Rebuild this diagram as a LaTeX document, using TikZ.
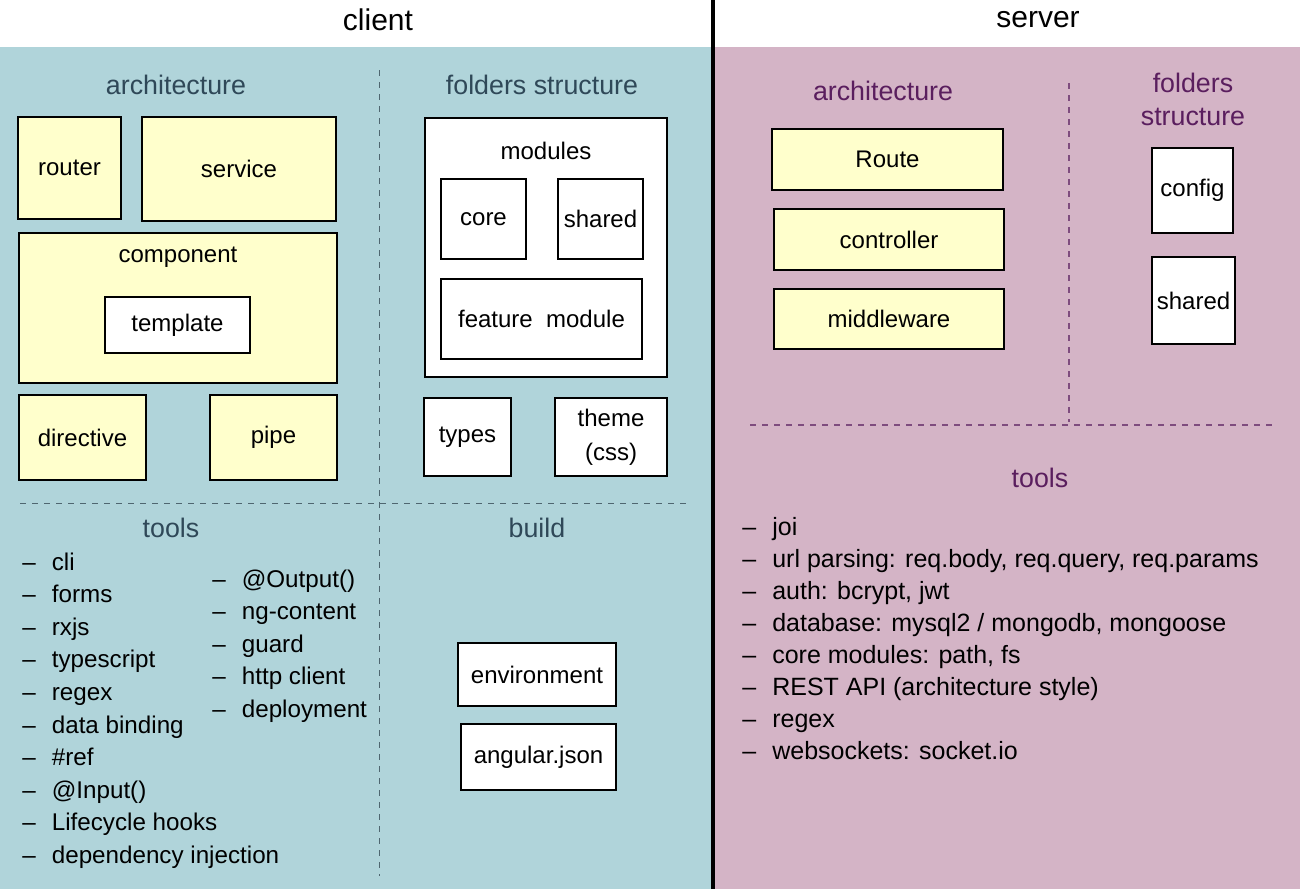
\documentclass[tikz,border=0pt]{standalone}
\usepackage{fontspec}
\setmainfont{Liberation Sans}
\usetikzlibrary{fit}
\definecolor{clientbg}{HTML}{B0D4DA}
\definecolor{serverbg}{HTML}{D4B4C6}
\definecolor{boxyellow}{HTML}{FFFFCC}
\definecolor{clienthead}{HTML}{2F4858}
\definecolor{serverhead}{HTML}{5A1E5E}
\definecolor{clientsep}{HTML}{4F6670}
\definecolor{serversep}{HTML}{7E4C7E}
\begin{document}
\begin{tikzpicture}[x=0.5pt,y=-0.5pt,
    title/.style={font=\fontsize{15}{18}\selectfont},
    head/.style={font=\fontsize{13.4}{16.5}\selectfont, text=clienthead, align=center},
    shead/.style={head, text=serverhead},
    lbl/.style={font=\fontsize{12}{17}\selectfont, align=center, inner sep=0pt},
    ybox/.style={draw=black, line width=0.6pt, fill=boxyellow, inner sep=0pt},
    wbox/.style={draw=black, line width=0.6pt, fill=white, inner sep=0pt},
    item/.style={anchor=base west, inner sep=0pt, font=\fontsize{12.5}{14}\selectfont},
    citem/.style={item, font=\fontsize{12.1}{14}\selectfont},
    csep/.style={dashed, line width=0.5pt, draw=clientsep},
    ssep/.style={dashed, line width=0.6pt, draw=serversep}]
    \useasboundingbox (0,0) rectangle (1300,889);

    % backgrounds
    \fill[white] (0,0) rectangle (1300,889);
    \fill[clientbg] (0,47) rectangle (713,889);
    \fill[serverbg] (713,47) rectangle (1300,889);
    \draw[line width=2pt] (713,0) -- (713,889);

    \node[title] (client) at (378,20) {client};
    \node[title] (server) at (1038,20) {server};

    % client separators
    \draw[csep] (379,70) -- (379,876);
    \draw[csep] (20,503) -- (686,503);

    % client: architecture
    \node[head] (carch) at (176,85) {architecture};
    \node[ybox, fit={(18,117) (121,219)}] (router) {};
    \node[lbl] (routertxt) at (router) {router};
    \node[ybox, fit={(142,117) (336,221)}] (service) {};
    \node[lbl] (servicetxt) at (service) {service};
    \node[ybox, fit={(19,233) (337,383)}] (component) {};
    \node[lbl] (componenttxt) at (178,257) {component};
    \node[wbox, fit={(105,297) (250,353)}] (template) {};
    \node[lbl] (templatetxt) at (template) {template};
    \node[ybox, fit={(19,395) (146,480)}] (directive) {};
    \node[lbl] (directivetxt) at (directive) {directive};
    \node[ybox, fit={(210,395) (337,480)}] (pipe) {};
    \node[lbl] (pipetxt) at (pipe) {pipe};

    % client: folders structure
    \node[head] (cfold) at (542,85) {folders\ structure};
    \node[wbox, fit={(425,118) (667,377)}] (modules) {};
    \node[lbl] (modulestxt) at (546,151) {modules};
    \node[wbox, fit={(441,179) (526,259)}] (core) {};
    \node[lbl] (coretxt) at (core) {core};
    \node[wbox, fit={(558,179) (643,259)}] (cshared) {};
    \node[lbl] (csharedtxt) at (cshared) {shared};
    \node[wbox, fit={(441,279) (642,359)}] (feature) {};
    \node[lbl] (featuretxt) at (feature) {feature\ \ module};
    \node[wbox, fit={(424,398) (511,476)}] (types) {};
    \node[lbl] (typestxt) at (types) {types};
    \node[wbox, fit={(555,398) (667,476)}] (theme) {};
    \node[lbl] (themetxt) at (theme) {theme\\(css)};

    % client: tools
    \node[head] (ctools) at (171,528) {tools};
    \foreach \t [count=\i] in {cli, forms, rxjs, typescript, regex, data binding,
        \#ref, @Input(), Lifecycle hooks, dependency injection}
        \node[citem] (ctool\i) at (22,{570+(\i-1)*32.6}) {--\hspace{8pt}\t};
    \foreach \t [count=\i] in {@Output(), ng-content, guard, http client, deployment}
        \node[citem] (ctoolb\i) at (212,{587+(\i-1)*32.5}) {--\hspace{8pt}\t};

    % client: build
    \node[head] (cbuild) at (537,528) {build};
    \node[wbox, fit={(458,643) (616,706)}] (environment) {};
    \node[lbl] (environmenttxt) at (environment) {environment};
    \node[wbox, fit={(461,724) (616,790)}] (angular) {};
    \node[lbl] (angulartxt) at (angular) {angular.json};

    % server separators
    \draw[ssep] (1069,83) -- (1069,422);
    \draw[ssep] (750,425) -- (1275,425);

    % server: architecture
    \node[shead] (sarch) at (883,91) {architecture};
    \node[ybox, fit={(772,129) (1003,190)}] (route) {};
    \node[lbl] (routetxt) at (route) {Route};
    \node[ybox, fit={(774,209) (1004,270)}] (controller) {};
    \node[lbl] (controllertxt) at (controller) {controller};
    \node[ybox, fit={(774,289) (1004,349)}] (middleware) {};
    \node[lbl] (middlewaretxt) at (middleware) {middleware};

    % server: folders structure
    \node[shead] (sfold) at (1193,99) {folders\\structure};
    \node[wbox, fit={(1152,148) (1233,233)}] (config) {};
    \node[lbl] (configtxt) at (config) {config};
    \node[wbox, fit={(1152,257) (1235,344)}] (sshared) {};
    \node[lbl] (ssharedtxt) at (sshared) {shared};

    % server: tools
    \node[shead] (stools) at (1040,478) {tools};
    \foreach \t [count=\i] in {joi, {url parsing: req.body, req.query, req.params},
        {auth: bcrypt, jwt}, {database: mysql2 / mongodb, mongoose},
        {core modules: path, fs}, REST API (architecture style), regex,
        websockets: socket.io}
        \node[item] (stool\i) at (742,{535+(\i-1)*32}) {--\hspace{8pt}\t};

\end{tikzpicture}
\end{document}
